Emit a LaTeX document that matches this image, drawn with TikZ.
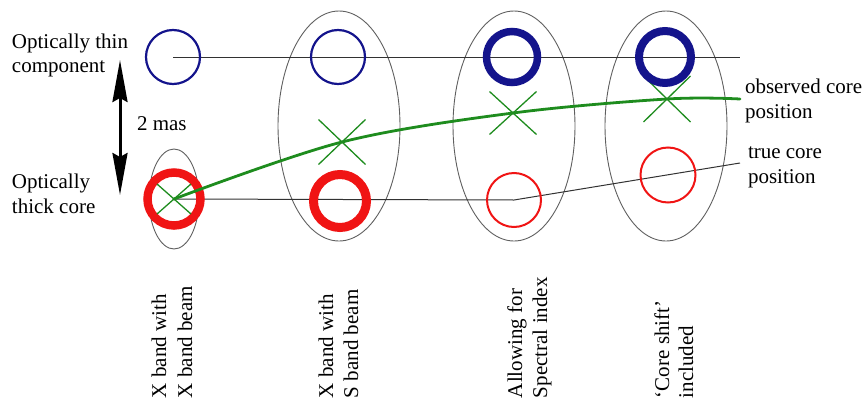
\documentclass[tikz,border=0pt]{standalone}
\usepackage{fontspec}
\setmainfont{Liberation Serif}
\usetikzlibrary{arrows.meta,shapes.misc,shapes.geometric}
\definecolor{ringblue}{RGB}{20,20,140}
\definecolor{ringred}{RGB}{240,20,20}
\definecolor{pathgreen}{RGB}{30,140,30}
\definecolor{beamgray}{RGB}{95,95,95}
\definecolor{refline}{RGB}{50,50,50}
\tikzset{
  beam/.style={draw=beamgray, line width=0.9pt, ellipse, inner sep=0pt, outer sep=0pt},
  bluering/.style={draw=ringblue, circle, inner sep=0pt, outer sep=0pt, minimum size=#1},
  redring/.style={draw=ringred, circle, inner sep=0pt, outer sep=0pt, minimum size=#1},
  xmark/.style={draw=pathgreen, cross out, line width=1.3pt, inner sep=0pt, outer sep=0pt},
  lab/.style={font=\fontsize{21}{25}\selectfont, inner sep=0pt, outer sep=0pt, anchor=base west},
  vlab/.style={lab, rotate=90},
  refl/.style={draw=refline, line width=1pt},
  greenpath/.style={draw=pathgreen, line width=2.8pt, line cap=round, line join=round},
}
\begin{document}
\begin{tikzpicture}[x=1pt,y=-1pt]
\useasboundingbox (0,0) rectangle (863,402);
% beams
\node[beam, minimum width=50pt, minimum height=100pt] (e1) at (174,199) {};
\node[beam, minimum width=122pt, minimum height=230pt] (e2) at (339,126) {};
\node[beam, minimum width=122pt, minimum height=230pt] (e3) at (514,126) {};
\node[beam, minimum width=122pt, minimum height=230pt] (e4) at (666,126) {};
% component positions
\coordinate (b1) at (173,57);
\coordinate (r1) at (174,199);
\coordinate (r3) at (514,200);
\coordinate (topend) at (740,57);
\coordinate (trueend) at (740,163);
\draw[refl] (b1) -- (topend);
\draw[refl] (r1) -- (r3) -- (trueend);
% red rings
\node[redring=53pt, line width=8.5pt] (rr1) at (r1) {};
\node[redring=53pt, line width=9pt] (rr2) at (340,201) {};
\node[redring=54pt, line width=2pt] (rr3) at (r3) {};
\node[redring=55pt, line width=2pt] (rr4) at (668,175) {};
% crosses
\node[xmark, minimum width=34pt, minimum height=30pt] (x1) at (174,199) {};
\node[xmark, minimum width=47pt, minimum height=45pt] (x2) at (342,142) {};
\node[xmark, minimum width=47pt, minimum height=43pt] (x3) at (513,113) {};
\node[xmark, minimum width=47pt, minimum height=46pt] (x4) at (667,99) {};
\coordinate (obsend) at (740,99);
\draw[greenpath] plot[smooth, tension=0.55] coordinates {(x1.center) (x2.center) (x3.center) (x4.center) (obsend)};
% blue rings
\node[bluering=54pt, line width=2.2pt] (br1) at (b1) {};
\node[bluering=54pt, line width=2.2pt] (br2) at (338,57) {};
\node[bluering=51pt, line width=7.5pt] (br3) at (512,57) {};
\node[bluering=52pt, line width=8pt] (br4) at (665,57) {};
% 2 mas arrow
\coordinate (atop) at (120,60);
\coordinate (abot) at (120,195);
\draw[line width=3pt, {Stealth[length=42pt,width=15pt,inset=4pt]}-{Stealth[length=42pt,width=15pt,inset=4pt]}] (atop) -- (abot);
% labels
\node[lab] (t1) at (12,48) {Optically thin};
\node[lab] (t2) at (12,72) {component};
\node[lab] (t3) at (12,188) {Optically};
\node[lab] (t4) at (12,213) {thick core};
\node[lab] (t5) at (137,130) {2 mas};
\node[lab] (t6) at (745,93) {observed core};
\node[lab] (t7) at (745,118) {position};
\node[lab] (t8) at (748,158) {true core};
\node[lab] (t9) at (748,183) {position};
% column labels
\node[vlab] (c1a) at (166,398) {X band with};
\node[vlab] (c1b) at (192,398) {X band beam};
\node[vlab] (c2a) at (333,398) {X band with};
\node[vlab] (c2b) at (358,398) {S band beam};
\node[vlab] (c3a) at (522,398) {Allowing for};
\node[vlab] (c3b) at (547,398) {Spectral index};
\node[vlab] (c4a) at (669,398) {`Core shift'};
\node[vlab] (c4b) at (693,398) {included};
\end{tikzpicture}
\end{document}
